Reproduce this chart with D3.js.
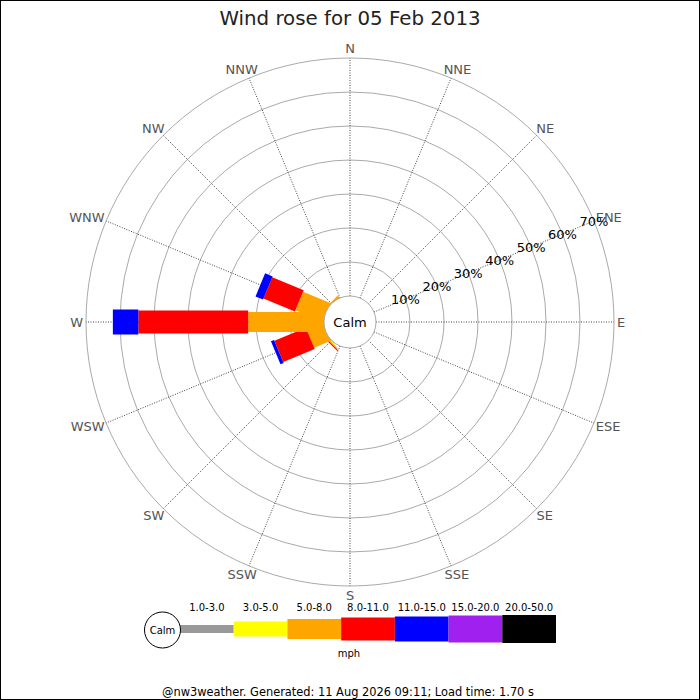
<!DOCTYPE html>
<html>
<head>
<meta charset="utf-8">
<script src="https://cdn.jsdelivr.net/npm/d3@7"></script>
<style>
  body { margin: 0; background: #fff; }
  svg { display: block; font-family: "DejaVu Sans", sans-serif; }
</style>
</head>
<body>
<div id="chart"></div>
<script>
// Compass directions, clockwise from north
const directions = ["N", "NNE", "NE", "ENE", "E", "ESE", "SE", "SSE",
  "S", "SSW", "SW", "WSW", "W", "WNW", "NW", "NNW"];

// Speed bands (mph) and their colours
const speedBands = ["1.0-3.0", "3.0-5.0", "5.0-8.0", "8.0-11.0", "11.0-15.0", "15.0-20.0", "20.0-50.0"];
const bandColors = ["#999999", "#ffff00", "#ffa500", "#ff0000", "#0000ff", "#a020f0", "#000000"];

// % of time per direction, one array per speed band
const band1 = [0, 0, 0, 0, 0, 0, 0, 0, 0, 0, 0.1, 0, 0, 0, 0, 0];
const band2 = [0, 0, 0, 0, 0, 0, 0, 0, 0, 0, 0.3, 0, 0, 0, 0, 0];
const band3 = [0, 0, 0, 0, 0, 0, 0, 0, 0, 0, 0.3, 5.0, 22.3, 8.5, 0.4, 0];
const band4 = [0, 0, 0, 0, 0, 0, 0, 0, 0, 0, 0.3, 10.0, 32.3, 10.0, 0, 0];
const band5 = [0, 0, 0, 0, 0, 0, 0, 0, 0, 0, 0, 1.0, 7.5, 2.4, 0, 0];
const band6 = [0, 0, 0, 0, 0, 0, 0, 0, 0, 0, 0, 0, 0, 0, 0, 0];
const band7 = [0, 0, 0, 0, 0, 0, 0, 0, 0, 0, 0, 0, 0, 0, 0, 0];
const bands = [band1, band2, band3, band4, band5, band6, band7];

const percentTicks = [10, 20, 30, 40, 50, 60, 70];

const title = "Wind rose for 05 Feb 2013";
const footer = "@nw3weather. Generated: 11 Aug 2026 09:11; Load time: 1.70 s";

const width = 700;
const height = 700;
const cx = 350;
const cy = 322;
const calmRadius = 26;
const outerRadius = 264;
// leg width grows with the speed band
const legWidths = [8, 15, 20, 23, 25, 27, 28];

const svg = d3.select("#chart")
  .append("svg")
  .attr("width", width)
  .attr("height", height);

svg.append("rect")
  .attr("x", 0.5).attr("y", 0.5)
  .attr("width", width - 1).attr("height", height - 1)
  .attr("fill", "#fff")
  .attr("stroke", "#000");

svg.append("text")
  .attr("x", cx).attr("y", 25)
  .attr("text-anchor", "middle")
  .attr("font-size", 19.8)
  .attr("fill", "#222")
  .text(title);

const r = d3.scaleLinear().domain([0, 70]).range([calmRadius, outerRadius]);
const angle = d3.scalePoint().domain(directions).range([0, 337.5]);

const rose = svg.append("g").attr("transform", `translate(${cx},${cy})`);

// Rings
rose.selectAll(".ring")
  .data(percentTicks)
  .enter()
  .append("circle")
  .attr("class", "ring")
  .attr("r", (d) => r(d))
  .attr("fill", "none")
  .attr("stroke", "#aaa")
  .attr("stroke-width", 1);

// Spokes
rose.selectAll(".spoke")
  .data(directions)
  .enter()
  .append("line")
  .attr("class", "spoke")
  .attr("x1", (d) => calmRadius * Math.sin(angle(d) * Math.PI / 180))
  .attr("y1", (d) => -calmRadius * Math.cos(angle(d) * Math.PI / 180))
  .attr("x2", (d) => outerRadius * Math.sin(angle(d) * Math.PI / 180))
  .attr("y2", (d) => -outerRadius * Math.cos(angle(d) * Math.PI / 180))
  .attr("stroke", "#444")
  .attr("stroke-width", 1)
  .attr("stroke-dasharray", "1,1.5");

// Legs: stack the bands outward from the calm circle
const legs = directions.map((dir, i) => {
  let total = 0;
  const segs = [];
  bands.forEach((band, b) => {
    const v = band[i];
    if (v > 0) {
      segs.push({ band: b, r0: segs.length ? r(total) : 0, r1: r(total + v) });
    }
    total += v;
  });
  return { dir, segs };
});

const leg = rose.selectAll(".leg")
  .data(legs)
  .enter()
  .append("g")
  .attr("class", "leg")
  .attr("transform", (d) => `rotate(${angle(d.dir)})`);

leg.selectAll("rect")
  .data((d) => d.segs)
  .enter()
  .append("rect")
  .attr("x", (d) => -legWidths[d.band] / 2)
  .attr("y", (d) => -d.r1)
  .attr("width", (d) => legWidths[d.band])
  .attr("height", (d) => d.r1 - d.r0)
  .attr("fill", (d) => bandColors[d.band]);

// Calm circle
rose.append("circle")
  .attr("r", calmRadius)
  .attr("fill", "#fff")
  .attr("stroke", "#aaa");

rose.append("text")
  .attr("text-anchor", "middle")
  .attr("dy", "0.35em")
  .attr("font-size", 13)
  .attr("fill", "#000")
  .text("Calm");

// Compass labels
const labelRadius = 267;
rose.selectAll(".dir-label")
  .data(directions)
  .enter()
  .append("text")
  .attr("class", "dir-label")
  .attr("font-size", 13)
  .attr("fill", "#555")
  .attr("text-anchor", "middle")
  .attr("dy", "0.35em")
  .text((d) => d)
  .each(function (d) {
    const a = angle(d) * Math.PI / 180;
    const w = this.getComputedTextLength();
    const x = labelRadius * Math.sin(a) + Math.sin(a) * w / 2;
    const y = -labelRadius * Math.cos(a) - Math.cos(a) * 6.5;
    d3.select(this).attr("x", x).attr("y", y);
  });

// Percent labels along the ENE spoke
const labelAngle = angle("ENE") * Math.PI / 180;
rose.selectAll(".pct-label")
  .data(percentTicks)
  .enter()
  .append("text")
  .attr("class", "pct-label")
  .attr("x", (d) => r(d) * Math.sin(labelAngle))
  .attr("y", (d) => -r(d) * Math.cos(labelAngle))
  .attr("dy", "0.35em")
  .attr("text-anchor", "middle")
  .attr("font-size", 13)
  .attr("fill", "#000")
  .text((d) => d + "%");

// Legend
const legendY = 629;
const lx = d3.scaleBand().domain(speedBands).range([180, 556]);

const legend = svg.append("g").attr("class", "legend");

legend.selectAll("rect")
  .data(speedBands)
  .enter()
  .append("rect")
  .attr("x", (d) => lx(d))
  .attr("y", (d, i) => legendY - legWidths[i] / 2)
  .attr("width", lx.bandwidth())
  .attr("height", (d, i) => legWidths[i])
  .attr("fill", (d, i) => bandColors[i]);

legend.selectAll(".band-label")
  .data(speedBands)
  .enter()
  .append("text")
  .attr("class", "band-label")
  .attr("x", (d) => lx(d) + lx.bandwidth() / 2)
  .attr("y", 611)
  .attr("text-anchor", "middle")
  .attr("font-size", 10)
  .attr("fill", "#000")
  .text((d) => d);

legend.append("circle")
  .attr("cx", 162.5).attr("cy", 630)
  .attr("r", 18)
  .attr("fill", "#fff")
  .attr("stroke", "#000");

legend.append("text")
  .attr("x", 162.5).attr("y", 630)
  .attr("dy", "0.35em")
  .attr("text-anchor", "middle")
  .attr("font-size", 10)
  .text("Calm");

legend.append("text")
  .attr("x", 349).attr("y", 657)
  .attr("text-anchor", "middle")
  .attr("font-size", 10)
  .text("mph");

svg.append("text")
  .attr("x", 348).attr("y", 696)
  .attr("text-anchor", "middle")
  .attr("font-size", 11.4)
  .attr("fill", "#000")
  .text(footer);
</script>
</body>
</html>
